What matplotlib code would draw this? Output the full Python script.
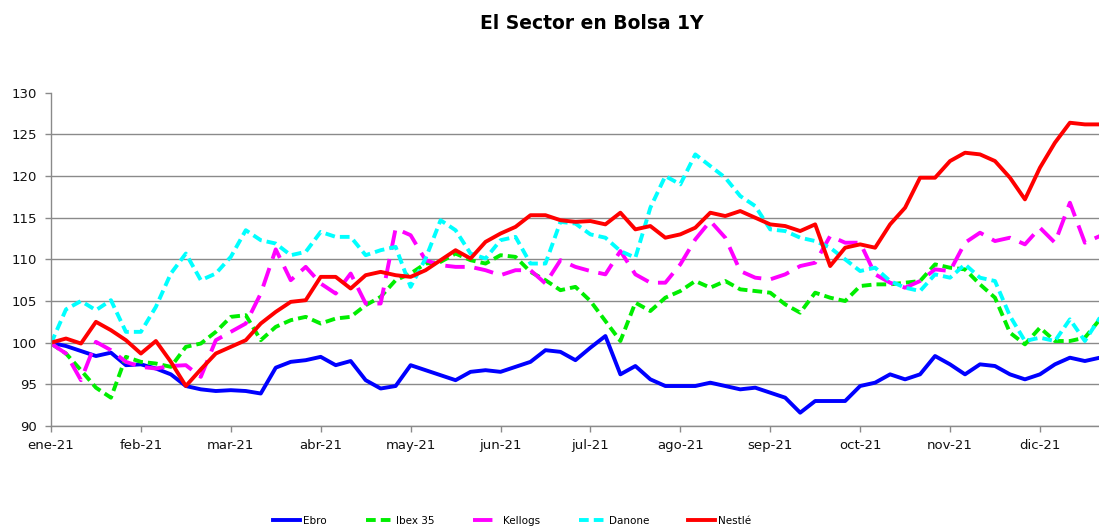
import numpy as np
import matplotlib
matplotlib.use("Agg")
import matplotlib.pyplot as plt

# month labels on the x axis
meses = ['ene-21', 'feb-21', 'mar-21', 'abr-21', 'may-21', 'jun-21',
         'jul-21', 'ago-21', 'sep-21', 'oct-21', 'nov-21', 'dic-21']

# values read every ~1/6 of a month (base 100 at 1 Jan)
ebro = [100.0, 99.6, 99.0, 98.4, 98.8, 97.3, 97.4, 96.9, 96.2, 94.8, 94.4, 94.2,
        94.3, 94.2, 93.9, 97.0, 97.7, 97.9,
        98.3, 97.3, 97.8, 95.5, 94.5, 94.8, 97.3, 96.7, 96.1, 95.5, 96.5, 96.7,
        96.5, 97.1, 97.7, 99.1, 98.9, 97.9,
        99.4, 100.8, 96.2, 97.2, 95.6, 94.8, 94.8, 94.8, 95.2, 94.8, 94.4, 94.6,
        94.0, 93.4, 91.6, 93.0, 93.0,
        93.0, 94.8, 95.2, 96.2, 95.6, 96.2, 98.4, 97.4, 96.2, 97.4, 97.2, 96.2,
        95.6, 96.2, 97.4, 98.2, 97.8, 98.2]

ibex = [99.9, 98.7, 96.7, 94.6, 93.4, 98.3, 97.7, 97.5, 97.1, 99.5, 99.9, 101.3,
        103.1, 103.3, 100.3, 101.9, 102.7, 103.1,
        102.3, 102.9, 103.1, 104.5, 105.5, 107.5, 108.3, 109.5, 109.7, 110.7, 109.9, 109.5,
        110.5, 110.3, 108.5, 107.5, 106.3, 106.7,
        105.0, 102.6, 100.2, 104.8, 103.8, 105.4, 106.2, 107.4, 106.6, 107.4, 106.4, 106.2,
        106.0, 104.6, 103.6, 106.0, 105.4,
        105.0, 106.8, 107.0, 107.0, 107.2, 107.4, 109.4, 109.0, 108.8, 107.0, 105.4, 101.2,
        99.8, 101.8, 100.2, 100.2, 100.6, 102.8]

kellogs = [99.9, 98.7, 95.5, 100.1, 99.1, 97.7, 97.1, 96.9, 97.2, 97.3, 95.9, 100.3,
           101.3, 102.3, 105.9, 111.2, 107.5, 109.1,
           107.1, 105.9, 108.3, 104.7, 104.7, 113.7, 112.9, 109.9, 109.3, 109.1, 109.1, 108.7,
           108.1, 108.7, 108.7, 107.1, 109.9, 109.1,
           108.6, 108.2, 111.0, 108.2, 107.2, 107.2, 109.4, 112.4, 114.6, 112.6, 108.6, 107.8,
           107.6, 108.2, 109.2, 109.6, 112.8,
           112.0, 112.0, 108.2, 107.2, 106.6, 107.4, 108.8, 108.6, 112.0, 113.2, 112.2, 112.6,
           111.8, 113.8, 112.0, 116.8, 112.0, 112.8]

danone = [99.9, 104.0, 105.0, 103.9, 105.1, 101.3, 101.3, 104.3, 108.3, 110.7, 107.5, 108.3,
          110.3, 113.5, 112.3, 111.9, 110.5, 110.9,
          113.3, 112.7, 112.7, 110.5, 111.1, 111.5, 106.7, 110.1, 114.7, 113.5, 110.7, 110.1,
          112.3, 112.7, 109.5, 109.5, 114.5, 114.3,
          113.0, 112.6, 111.0, 110.2, 116.2, 120.0, 119.0, 122.6, 121.2, 119.8, 117.6, 116.4,
          113.6, 113.4, 112.6, 112.2, 111.4,
          110.0, 108.6, 109.0, 107.4, 106.6, 106.2, 108.2, 107.8, 109.4, 107.8, 107.4, 103.2,
          100.2, 100.6, 100.2, 102.8, 100.2, 103.0]

nestle = [100.0, 100.5, 99.9, 102.5, 101.5, 100.3, 98.7, 100.2, 97.7, 94.8, 96.8, 98.7,
          99.5, 100.3, 102.3, 103.7, 104.9, 105.1,
          107.9, 107.9, 106.5, 108.1, 108.5, 108.1, 107.9, 108.7, 109.9, 111.1, 110.1, 112.1,
          113.1, 113.9, 115.3, 115.3, 114.7, 114.5,
          114.6, 114.2, 115.6, 113.6, 114.0, 112.6, 113.0, 113.8, 115.6, 115.2, 115.8, 115.0,
          114.2, 114.0, 113.4, 114.2, 109.2,
          111.4, 111.8, 111.4, 114.2, 116.2, 119.8, 119.8, 121.8, 122.8, 122.6, 121.8, 119.8,
          117.2, 121.0, 124.0, 126.4, 126.2, 126.2]

# time axis in months since 1 Jan 2021
t = np.arange(len(ebro)) / 6.0

fig = plt.figure(figsize=(10.99, 5.29), dpi=100)
ax = fig.add_axes([0.0464, 0.1947, 0.9536, 0.630])

lw = 2.8
ax.plot(t, ebro, color='#0000FF', lw=lw, label='Ebro')
ax.plot(t, ibex, color='#00EE00', lw=lw, linestyle=(0, (2.5, 1.3)), label='Ibex 35')
ax.plot(t, kellogs, color='#FF00FF', lw=lw, linestyle=(0, (5, 2.5)), label='Kellogs')
ax.plot(t, danone, color='#00FFFF', lw=lw, linestyle=(0, (2.5, 1.3)), label='Danone')
ax.plot(t, nestle, color='#FF0000', lw=lw, label='Nestlé')

ax.set_xlim(0, 11.657)
ax.set_ylim(90, 130)
ax.set_yticks(range(90, 131, 5))
ax.set_xticks(range(12))
ax.set_xticklabels(meses)

ax.grid(axis='y', color='#8a8a8a', lw=1.0)
ax.get_ygridlines()[-1].set_visible(False)
ax.set_axisbelow(True)

for s in ['top', 'right']:
    ax.spines[s].set_visible(False)
for s in ['left', 'bottom']:
    ax.spines[s].set_color('#8a8a8a')
    ax.spines[s].set_linewidth(1.0)
ax.tick_params(axis='both', colors='#8a8a8a', labelcolor='#111111',
               labelsize=9.5, length=4, width=1.0, direction='out')
ax.tick_params(axis='y', pad=6)
ax.tick_params(axis='x', pad=5)

fig.text(0.5387, 0.956, 'El Sector en Bolsa 1Y', ha='center', va='center',
         fontsize=13.5, fontweight='bold')

fig.legend(loc='center', bbox_to_anchor=(0.466, 0.016), ncol=5, frameon=False,
           fontsize=7.5, handlelength=2.6, handletextpad=0.3, columnspacing=3.7)

fig.savefig('out.png', dpi=100)
